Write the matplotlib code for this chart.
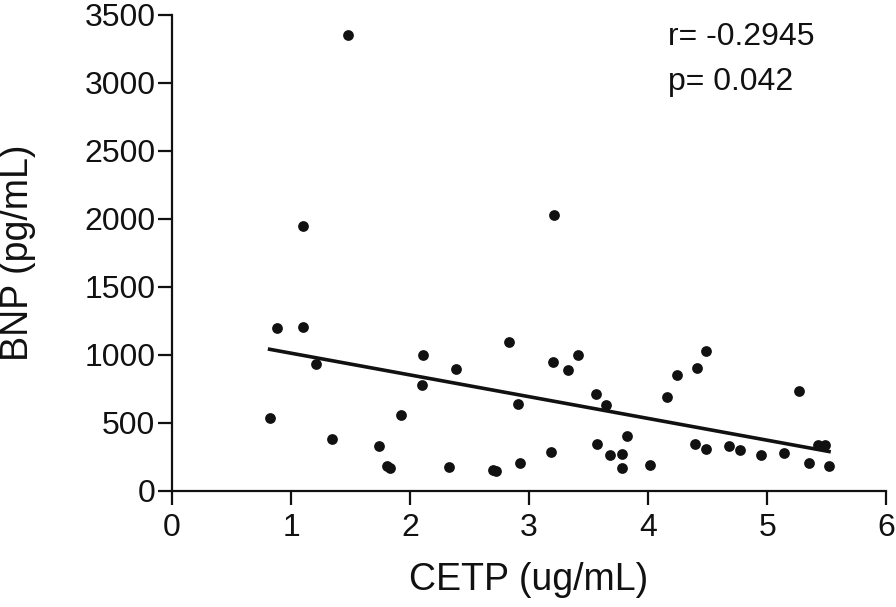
import matplotlib
matplotlib.use('Agg')
import matplotlib.pyplot as plt
import numpy as np

# CETP (ug/mL) vs BNP (pg/mL)
cetp = [1.48, 1.10, 0.88, 1.10, 1.21, 0.82, 1.34, 1.74, 1.81, 1.83,
        2.11, 2.39, 2.10, 1.92, 2.33, 2.70, 2.72, 2.83,
        2.92, 2.91, 3.21, 3.18, 3.20, 3.33, 3.41, 3.56, 3.65, 3.57,
        3.68, 3.78, 3.82, 3.78, 4.02, 4.16, 4.24, 4.41, 4.49, 4.39,
        4.49, 4.68, 4.77, 4.95, 5.14, 5.27, 5.35, 5.43, 5.49, 5.52]
bnp = [3350, 1949, 1199, 1201, 935, 532, 384, 332, 185, 170,
       1002, 893, 778, 554, 177, 150, 145, 1092,
       202, 640, 2031, 286, 948, 886, 997, 714, 630, 340,
       266, 271, 399, 170, 187, 687, 849, 906, 1031, 345,
       308, 332, 301, 261, 276, 736, 202, 337, 337, 180]

r_text = 'r= -0.2945'
p_text = 'p= 0.042'

plt.rcParams['font.family'] = ['Liberation Sans', 'DejaVu Sans']

fig = plt.figure(figsize=(8.96, 6.07), dpi=100)
ax = fig.add_axes([0.192, 0.1916, 0.797, 0.7837])

x = np.array(cetp)
y = np.array(bnp)
ax.scatter(x, y, s=60, color='#111111', zorder=3, linewidths=0)

# linear regression line
slope, intercept = np.polyfit(x, y, 1)
xs = np.array([x.min(), x.max()])
ax.plot(xs, slope * xs + intercept, color='#111111', lw=2.6, zorder=2)

ax.set_xlim(0, 6)
ax.set_ylim(0, 3500)
ax.set_xticks(range(0, 7))
ax.set_yticks(range(0, 3501, 500))

for s in ['top', 'right']:
    ax.spines[s].set_visible(False)
for s in ['left', 'bottom']:
    ax.spines[s].set_linewidth(1.6)
    ax.spines[s].set_color('#111111')

ax.tick_params(axis='both', length=10, width=1.6, labelsize=23,
               colors='#111111')
ax.tick_params(axis='x', pad=6)
ax.tick_params(axis='y', pad=2)

ax.set_xlabel('CETP (ug/mL)', fontsize=27, labelpad=14, color='#111111')
ax.set_ylabel('BNP (pg/mL)', fontsize=27, labelpad=35, color='#111111')

ax.text(0.694, 0.985, r_text, transform=ax.transAxes, fontsize=23,
        va='top', ha='left', color='#111111')
ax.text(0.694, 0.89, p_text, transform=ax.transAxes, fontsize=23,
        va='top', ha='left', color='#111111')

fig.savefig('out.png', dpi=100)
